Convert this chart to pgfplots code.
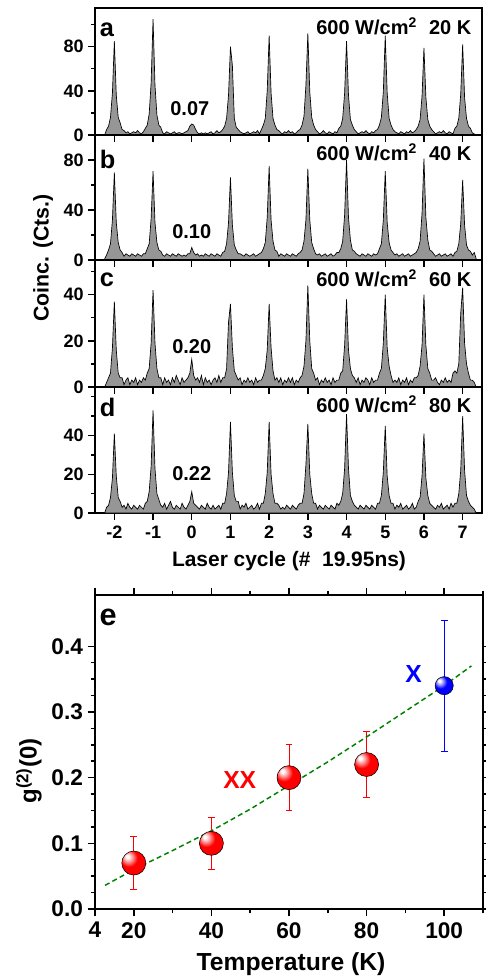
\documentclass[border=0pt]{standalone}
\usepackage{fontspec}
\setmainfont{Liberation Sans}
\usepackage{pgfplots}
\pgfplotsset{compat=1.18}
\usepackage{pgfplotstable}

\definecolor{histfill}{RGB}{150,150,150}
\definecolor{fitgreen}{RGB}{0,128,0}
\newcommand{\fs}[1]{\fontsize{#1}{#1}\selectfont\bfseries}

% brighter ball shading for the markers
\makeatletter
\pgfdeclareradialshading[tikz@ball]{ball}{\pgfqpoint{-14bp}{14bp}}{%
  color(0bp)=(white); color(3bp)=(white);
  color(10bp)=(tikz@ball!45!white);
  color(18bp)=(tikz@ball);
  color(54bp)=(tikz@ball);
  color(68bp)=(tikz@ball!70!black)}
\makeatother

% coincidence histograms, columns a..d = 20, 40, 60, 80 K
\pgfplotstableread{
x a b c d
-2.25 0 1 0 0
-2.20 5 4 2 3
-2.15 8 8 4 4
-2.10 16 13 6 8
-2.05 38 32 17 18
-2.00 85 70 37 41
-1.95 36 30 16 19
-1.90 16 14 6 8
-1.85 11 8 4 6
-1.80 5 6 4 3
-1.75 4 3 1 4
-1.70 2 5 3 2
-1.65 3 4 4 5
-1.60 1 3 1 3
-1.55 2 5 3 2
-1.50 3 4 2 4
-1.45 2 3 4 3
-1.40 4 5 1 2
-1.35 2 4 3 4
-1.30 1 3 2 3
-1.25 3 5 4 2
-1.20 6 5 3 5
-1.15 9 9 6 6
-1.10 19 13 8 11
-1.05 47 33 19 24
-1.00 105 71 42 53
-0.95 45 30 19 23
-0.90 18 14 8 10
-0.85 9 8 4 7
-0.80 7 7 4 4
-0.75 2 4 1 3
-0.70 1 3 4 5
-0.65 3 5 2 2
-0.60 2 4 3 4
-0.55 1 3 1 6
-0.50 2 5 4 3
-0.45 3 4 2 2
-0.40 1 3 5 4
-0.35 2 5 3 3
-0.30 2 4 1 2
-0.25 1 3 4 5
-0.20 2 4 2 3
-0.15 3 3 3 2
-0.10 4 5 4 4
-0.05 8 5 6 6
0.00 10 10 12 11
0.05 9 6 5 5
0.10 5 4 3 4
0.15 2 5 4 3
0.20 1 3 2 2
0.25 2 4 5 4
0.30 1 3 1 3
0.35 2 5 4 2
0.40 1 4 2 5
0.45 2 3 3 3
0.50 3 5 1 2
0.55 1 4 3 4
0.60 2 3 4 2
0.65 4 5 2 3
0.70 2 4 5 4
0.75 3 3 2 2
0.80 5 6 4 5
0.85 8 7 4 5
0.90 15 13 8 10
0.95 36 30 28 21
1.00 80 66 36 47
1.05 63 28 17 21
1.10 15 12 7 9
1.15 7 8 5 6
1.20 5 5 3 6
1.25 3 5 4 2
1.30 2 4 1 4
1.35 1 3 3 3
1.40 2 5 2 5
1.45 3 4 4 2
1.50 1 3 2 3
1.55 2 4 3 4
1.60 3 5 1 2
1.65 2 3 4 3
1.70 4 4 2 5
1.75 1 5 3 2
1.80 5 6 3 5
1.85 9 9 5 5
1.90 15 14 8 10
1.95 40 34 16 21
2.00 90 75 36 47
2.05 38 32 17 20
2.10 15 15 7 10
2.15 9 8 3 5
2.20 5 7 4 5
2.25 4 3 2 4
2.30 2 5 4 2
2.35 1 4 1 3
2.40 3 3 3 2
2.45 2 5 2 4
2.50 4 4 4 3
2.55 2 3 2 2
2.60 3 5 4 4
2.65 1 4 1 3
2.70 2 3 3 2
2.75 4 5 2 4
2.80 5 6 4 5
2.85 9 8 5 5
2.90 17 15 9 10
2.95 45 32 20 25
3.00 92 73 44 46
3.05 39 32 20 20
3.10 16 14 8 10
3.15 9 9 6 5
3.20 5 5 3 5
3.25 3 4 4 2
3.30 1 5 1 4
3.35 2 3 3 3
3.40 4 4 2 2
3.45 2 5 4 4
3.50 1 3 2 3
3.55 3 4 3 2
3.60 2 5 1 4
3.65 1 3 4 3
3.70 3 4 2 2
3.75 2 6 3 5
3.80 6 6 3 4
3.85 8 9 6 6
3.90 15 15 7 10
3.95 38 36 18 23
4.00 85 80 38 51
4.05 36 34 16 23
4.10 14 16 8 9
4.15 9 8 5 6
4.20 5 7 4 4
4.25 3 5 2 3
4.30 1 4 4 2
4.35 2 3 1 4
4.40 3 5 3 3
4.45 2 4 2 2
4.50 4 3 4 4
4.55 2 5 3 3
4.60 1 4 1 2
4.65 3 3 4 4
4.70 2 5 2 3
4.75 4 4 3 2
4.80 5 5 3 5
4.85 9 9 6 5
4.90 16 13 8 9
4.95 39 32 19 21
5.00 90 71 40 45
5.05 38 30 17 19
5.10 15 14 9 9
5.15 9 8 5 5
5.20 5 6 2 5
5.25 3 4 3 2
5.30 2 5 2 4
5.35 1 3 4 3
5.40 3 4 1 5
5.45 2 5 3 2
5.50 1 3 2 3
5.55 3 4 4 4
5.60 2 5 1 2
5.65 4 3 3 3
5.70 2 4 2 5
5.75 3 5 4 2
5.80 5 6 4 3
5.85 8 9 5 6
5.90 14 15 9 8
5.95 35 37 18 19
6.00 79 81 40 41
6.05 34 34 18 18
6.10 14 16 8 9
6.15 8 8 6 5
6.20 5 7 3 4
6.25 3 5 3 3
6.30 1 3 4 2
6.35 2 4 2 4
6.40 3 5 1 3
6.45 2 3 3 5
6.50 4 4 2 2
6.55 2 5 4 3
6.60 1 3 2 4
6.65 3 4 3 2
6.70 2 5 2 5
6.75 1 3 6 3
6.80 6 6 7 5
6.85 8 7 6 5
6.90 15 13 10 10
6.95 37 29 32 22
7.00 82 64 43 50
7.05 34 28 19 22
7.10 15 12 10 9
7.15 8 8 6 6
7.20 6 7 3 4
7.25 2 4 3 3
7.30 1 6 2 2
7.35 0 1 0 0
}\hist

\pgfplotsset{
  common/.style={
    scale only axis, anchor=north west,
    axis line style={line width=1.2pt},
    tick style={black, line width=1.1pt},
    tick align=outside,
    major tick length=5pt, minor tick length=3pt,
    /pgf/number format/assume math mode=true,
  },
  panel/.style={
    common, width=290.25pt,
    xmin=-2.5, xmax=7.5, ymin=0,
    xtick pos=left, ytick pos=left,
    xtick={-2,-1,0,1,2,3,4,5,6,7},
    tick label style={font=\fs{13.5}},
  },
  hist/.style={draw=black, line width=0.5pt, fill=histfill},
}

\begin{document}
\begin{tikzpicture}
\useasboundingbox (0,0) rectangle (364.5pt,-732pt);

% a
\begin{axis}[panel, at={(71.25pt,-6pt)}, height=95.25pt, ymax=115,
  ytick={0,40,80}, minor ytick={20,60,100}, xticklabels={}]
\addplot[hist] table[x=x,y=a]{\hist} \closedcycle;
\node[anchor=base west, inner sep=0, font=\fs{19}] at (rel axis cs:0.012,0.774) {a};
\node[anchor=base east, inner sep=0, font=\fs{15}] at (rel axis cs:0.973,0.795) {600 W/cm\textsuperscript{2}\hspace{0.6em}20 K};
\node[font=\fs{15}] at (rel axis cs:0.245,0.21) {0.07};
\end{axis}

% b
\begin{axis}[panel, at={(71.25pt,-101.25pt)}, height=93.75pt, ymax=100,
  ytick={0,40,80}, minor ytick={20,60}, xticklabels={}]
\addplot[hist] table[x=x,y=b]{\hist} \closedcycle;
\node[anchor=base west, inner sep=0, font=\fs{19}] at (rel axis cs:0.012,0.736) {b};
\node[anchor=base east, inner sep=0, font=\fs{15}] at (rel axis cs:0.973,0.795) {600 W/cm\textsuperscript{2}\hspace{0.6em}40 K};
\node[font=\fs{15}] at (rel axis cs:0.25,0.224) {0.10};
\end{axis}

% c
\begin{axis}[panel, at={(71.25pt,-195pt)}, height=95.25pt, ymax=55,
  ytick={0,20,40}, minor ytick={10,30,50}, xticklabels={}]
\addplot[hist] table[x=x,y=c]{\hist} \closedcycle;
\node[anchor=base west, inner sep=0, font=\fs{19}] at (rel axis cs:0.012,0.794) {c};
\node[anchor=base east, inner sep=0, font=\fs{15}] at (rel axis cs:0.973,0.795) {600 W/cm\textsuperscript{2}\hspace{0.6em}60 K};
\node[font=\fs{15}] at (rel axis cs:0.25,0.32) {0.20};
\end{axis}

% d
\begin{axis}[panel, at={(71.25pt,-290.25pt)}, height=94.5pt, ymax=65,
  ytick={0,20,40}, minor ytick={10,30,50,60},
  xticklabel style={font=\fs{13.5}, yshift=-1.5pt}]
\addplot[hist] table[x=x,y=d]{\hist} \closedcycle;
\node[anchor=base west, inner sep=0, font=\fs{19}] at (rel axis cs:0.012,0.762) {d};
\node[anchor=base east, inner sep=0, font=\fs{15}] at (rel axis cs:0.973,0.795) {600 W/cm\textsuperscript{2}\hspace{0.6em}80 K};
\node[font=\fs{15}] at (rel axis cs:0.25,0.31) {0.22};
\end{axis}

\node[rotate=90, font=\fs{16}] at (32.25pt,-193.5pt) {Coinc. (Cts.)};
\node[anchor=base, inner sep=0, font=\fs{15.7}] at (216.75pt,-425pt) {Laser cycle (\#\ \ 19.95ns)};

% e
\begin{axis}[common, at={(71.25pt,-446.25pt)}, width=291pt, height=235.5pt,
  xmin=10, xmax=110, ymin=0, ymax=0.478,
  xtick={10,20,40,60,80,100}, xticklabels={4,20,40,60,80,100},
  minor xtick={30,50,70,90,110},
  ytick={0,0.1,0.2,0.3,0.4}, minor y tick num=3,
  major tick length=5.5pt, minor tick length=3.2pt,
  tick label style={font=\fs{17}},
  xticklabel style={yshift=-1pt},
  yticklabel style={/pgf/number format/.cd, fixed, fixed zerofill, precision=1},
  clip=false]
\addplot[only marks, mark=ball, mark size=9pt, mark options={ball color=red},
  error bars/.cd, y dir=both, y explicit,
  error bar style={red, line width=0.6pt},
  error mark options={rotate=90, red, mark size=2.6pt, line width=0.6pt}]
  coordinates {(20,0.07) +- (0,0.04) (40,0.10) +- (0,0.04)
               (60,0.20) +- (0,0.05) (80,0.22) +- (0,0.05)};
\addplot[only marks, mark=ball, mark size=6.8pt, mark options={ball color=blue},
  error bars/.cd, y dir=both, y explicit,
  error bar style={blue, line width=0.6pt},
  error mark options={rotate=90, blue, mark size=2.6pt, line width=0.6pt}]
  coordinates {(100,0.34) +- (0,0.10)};
\addplot[fitgreen, line width=1.1pt, dash pattern=on 3.75pt off 2.5pt] coordinates {
  (12.6,0.036) (20,0.060) (30,0.089) (40,0.119) (50,0.152) (60,0.188)
  (70,0.224) (80,0.262) (90,0.301) (100,0.340) (107,0.370)};
\node[text=red, font=\fs{18.5}] at (axis cs:47.3,0.196) {XX};
\node[text=blue, font=\fs{18.5}] at (axis cs:92.1,0.358) {X};
\node[anchor=base west, inner sep=0, font=\fs{23}] at (rel axis cs:0.011,0.904) {e};
\end{axis}

\node[rotate=90, font=\fs{18}] at (21.75pt,-578.25pt) {g\textsuperscript{(2)}(0)};
\node[anchor=base, inner sep=0, font=\fs{18.5}] at (218.25pt,-727.5pt) {Temperature (K)};
\end{tikzpicture}
\end{document}
